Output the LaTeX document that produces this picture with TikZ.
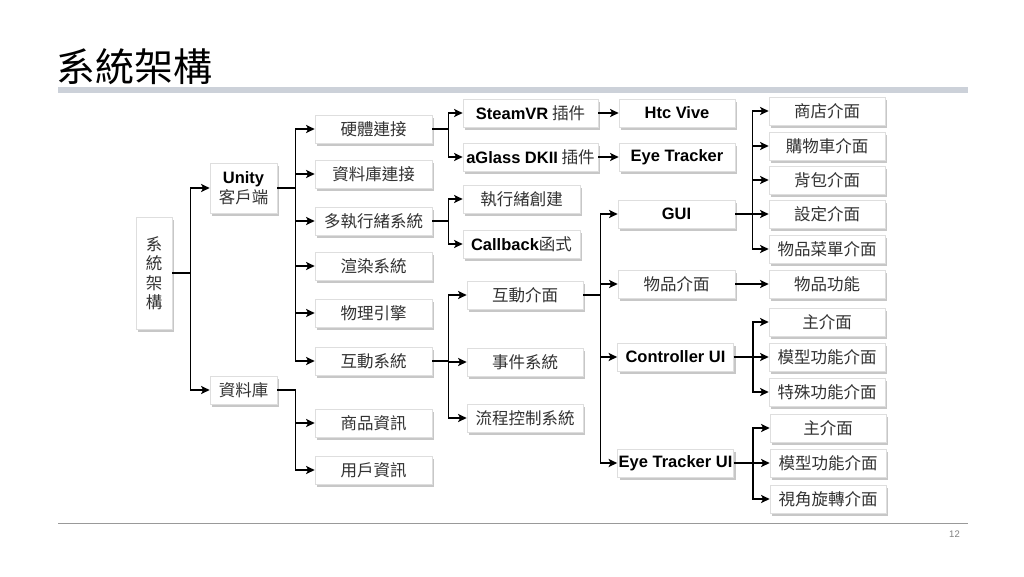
\documentclass[tikz,border=0pt]{standalone}
\usepackage{fontspec}
\setmainfont{Liberation Sans}
\newfontfamily\cjk{Noto Sans CJK TC}
\newfontfamily\latf{Liberation Sans}
\usetikzlibrary{arrows.meta,shadows}
\definecolor{barcol}{RGB}{204,209,217}
\definecolor{txtcol}{RGB}{50,50,50}
\newcommand{\lb}[1]{{\latf\bfseries\color{black}#1}}
\begin{document}
\begin{tikzpicture}[x=1pt,y=-1pt,
  box/.style={draw=black!13, line width=0.7pt, fill=white, inner sep=1pt,
    minimum height=28pt, text=txtcol, font=\cjk\fontsize{16.5}{19.5}\selectfont, align=center,
    drop shadow={shadow xshift=2pt, shadow yshift=-2.5pt, fill=black!22, opacity=1}},
  conn/.style={line width=1.7pt, -{Stealth[length=8.5pt,width=8pt,inset=2pt]}},
  w117/.style={minimum width=117pt},
  w116/.style={minimum width=116pt},
  w135/.style={minimum width=135pt},
  w67/.style={minimum width=67pt}]
\useasboundingbox (0,0) rectangle (1024,576);
% title
\node[anchor=base west, inner sep=0, font=\cjk\fontsize{39}{42}\selectfont] (title) at (56,81) {系統架構};
\fill[barcol] (58,87) rectangle (968,93);
\draw[black!40, line width=0.8pt] (58,523.5) -- (968,523.5);
\node[anchor=base east, inner sep=0, text=black!50, font=\latf\fontsize{9.5}{10}\selectfont] (pg) at (960,537) {12};

% root
\node[box, minimum width=36pt, minimum height=112pt] (root) at (154,273) {系\\統\\架\\構};
\node[box, w67, minimum height=50pt] (unity) at (243.5,188) {\lb{Unity}\\客戶端};
\node[box, w67] (db) at (243.5,390) {資料庫};

% column 3
\node[box, w117] (hw) at (373.5,129) {硬體連接};
\node[box, w117] (dbc) at (373.5,174) {資料庫連接};
\node[box, w117] (mt) at (373.5,221) {多執行緒系統};
\node[box, w117] (rend) at (373.5,266) {渲染系統};
\node[box, w117] (phys) at (373.5,313) {物理引擎};
\node[box, w117] (inter) at (373.5,361) {互動系統};
\node[box, w117] (prod) at (373.5,423) {商品資訊};
\node[box, w117] (user) at (373.5,470) {用戶資訊};

% column 4
\node[box, w135] (steam) at (530.5,113) {\lb{SteamVR} 插件};
\node[box, w135] (aglass) at (530.5,157) {\lb{aGlass DKII} 插件};
\node[box, w117] (thc) at (521.5,199) {執行緒創建};
\node[box, w117] (cb) at (521.5,244) {\lb{Callback}函式};
\node[box, w116] (iui) at (525,295) {互動介面};
\node[box, w116] (evt) at (525,362) {事件系統};
\node[box, w116] (flow) at (525,418) {流程控制系統};

% column 5
\node[box, w116] (htc) at (677,113) {\lb{Htc Vive}};
\node[box, w116] (eyet) at (677,157) {\lb{Eye Tracker}};
\node[box, w117] (gui) at (676.5,214) {\lb{GUI}};
\node[box, w117] (item) at (676.5,284) {物品介面};
\node[box, w116] (ctrl) at (675.5,357) {\lb{Controller UI}};
\node[box, w116] (etui) at (675.5,463) {\lb{Eye Tracker UI}};

% column 6
\node[box, w116] (shop) at (827,111) {商店介面};
\node[box, w116] (cart) at (827,146) {購物車介面};
\node[box, w116] (bag) at (827,180) {背包介面};
\node[box, w116] (set) at (827,214) {設定介面};
\node[box, w116] (menu) at (827,249) {物品菜單介面};
\node[box, w116] (func) at (827,284) {物品功能};
\node[box, w116] (cmain) at (827,322) {主介面};
\node[box, w116] (cmodel) at (827,357) {模型功能介面};
\node[box, w116] (cspec) at (827,392) {特殊功能介面};
\node[box, w116] (emain) at (828,428) {主介面};
\node[box, w116] (emodel) at (828,463) {模型功能介面};
\node[box, w116] (erot) at (828,499) {視角旋轉介面};

% connectors
\foreach \c in {unity,db} \draw[conn] (root.east) -- ++(18,0) |- (\c.west);
\foreach \c in {hw,dbc,mt,rend,phys,inter} \draw[conn] (unity.east) -- ++(18,0) |- (\c.west);
\foreach \c in {prod,user} \draw[conn] (db.east) -- ++(18,0) |- (\c.west);
\foreach \c in {steam,aglass} \draw[conn] (hw.east) -- ++(16,0) |- (\c.west);
\foreach \c in {thc,cb} \draw[conn] (mt.east) -- ++(16,0) |- (\c.west);
\foreach \c in {iui,evt,flow} \draw[conn] (inter.east) -- ++(16,0) |- (\c.west);
\draw[conn] (steam.east) -- (htc.west);
\draw[conn] (aglass.east) -- (eyet.west);
\foreach \c in {gui,item,ctrl,etui} \draw[conn] (iui.east) -- ++(17,0) |- (\c.west);
\foreach \c in {shop,cart,bag,set,menu} \draw[conn] (gui.east) -- ++(17,0) |- (\c.west);
\draw[conn] (item.east) -- (func.west);
\foreach \c in {cmain,cmodel,cspec} \draw[conn] (ctrl.east) -- ++(19,0) |- (\c.west);
\foreach \c in {emain,emodel,erot} \draw[conn] (etui.east) -- ++(19,0) |- (\c.west);
\end{tikzpicture}
\end{document}
